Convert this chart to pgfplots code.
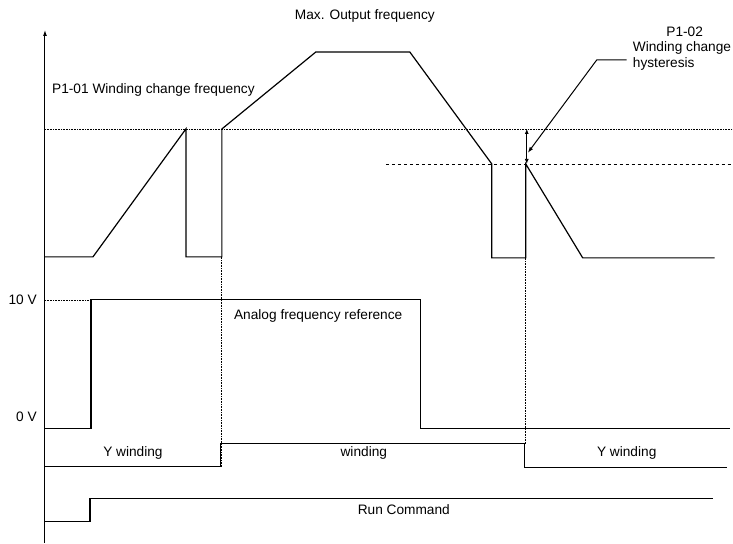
\documentclass[border=0pt]{standalone}
\usepackage{pgfplots}
\pgfplotsset{compat=1.18}
\usetikzlibrary{arrows.meta}
\usepackage{fontspec}
\setmainfont{Liberation Sans}
\tikzset{lbl/.style={font=\fontsize{13.7}{16}\selectfont, inner sep=0pt},
  wave/.style={black, line width=1.2pt, mark=none, line join=miter}}

\begin{document}
\begin{tikzpicture}
\begin{axis}[
  scale only axis, width=733pt, height=543pt,
  xmin=0, xmax=733, ymin=0, ymax=543, y dir=reverse,
  hide axis, clip=false
]
\path (rel axis cs:0,0) rectangle (rel axis cs:1,1);

% reference levels
\addplot[black, line width=0.6pt, densely dotted] coordinates {(45,129)(733,129)};
\addplot[black, line width=0.7pt, dashed] coordinates {(386,164)(733,164)};
\addplot[black, line width=0.6pt, densely dotted] coordinates {(45,300)(92,300)};
\addplot[black, line width=0.6pt, densely dotted] coordinates {(221,257)(221,467)};
\addplot[black, line width=0.6pt, densely dotted] coordinates {(526,258)(526,444)};

% output frequency
\addplot[wave] coordinates {
 (45,257)(93,257)(186,129)(186,257)(222,257)(222,129)(316,52)(410,52)
 (492,164)(492,258)(526,258)(526,164)(583,258)(715,258)
};
% analog frequency reference
\addplot[wave] coordinates {(45,429)(91,429)(91,300)(421,300)(421,429)(730,429)};
% winding selection
\addplot[wave] coordinates {(45,467)(221,467)(221,444)(525,444)(525,468)(727,468)};
% run command
\addplot[wave] coordinates {(45,522)(90,522)(90,499)(713,499)};

% vertical axis
\draw[line width=1pt, -{Latex[length=6pt,width=4pt]}] (axis cs:45,543) -- (axis cs:45,30);

% hysteresis arrows
\draw[line width=0.8pt, {Latex[length=5pt,width=4pt]}-{Latex[length=5pt,width=4pt]}]
  (axis cs:527,129) -- (axis cs:527,164);
\draw[line width=1pt, -{Latex[length=6pt,width=4pt]}]
  (axis cs:627,60) -- (axis cs:597,60) -- (axis cs:528,153);

% labels
\node[lbl] at (axis cs:365,16) {Max. Output frequency};
\node[lbl, anchor=west] at (axis cs:52,90) {P1-01 Winding change frequency};
\node[lbl] at (axis cs:685,32) {P1-02};
\node[lbl, anchor=west] at (axis cs:633,48) {Winding change};
\node[lbl, anchor=west] at (axis cs:633,64) {hysteresis};
\node[lbl, anchor=east] at (axis cs:37,300) {10 V};
\node[lbl, anchor=east] at (axis cs:37,417) {0 V};
\node[lbl, anchor=west] at (axis cs:234,316) {Analog frequency reference};
\node[lbl] at (axis cs:133,453) {Y winding};
\node[lbl] at (axis cs:364,453) {winding};
\node[lbl] at (axis cs:627,453) {Y winding};
\node[lbl] at (axis cs:404,510) {Run Command};
\end{axis}
\end{tikzpicture}
\end{document}
